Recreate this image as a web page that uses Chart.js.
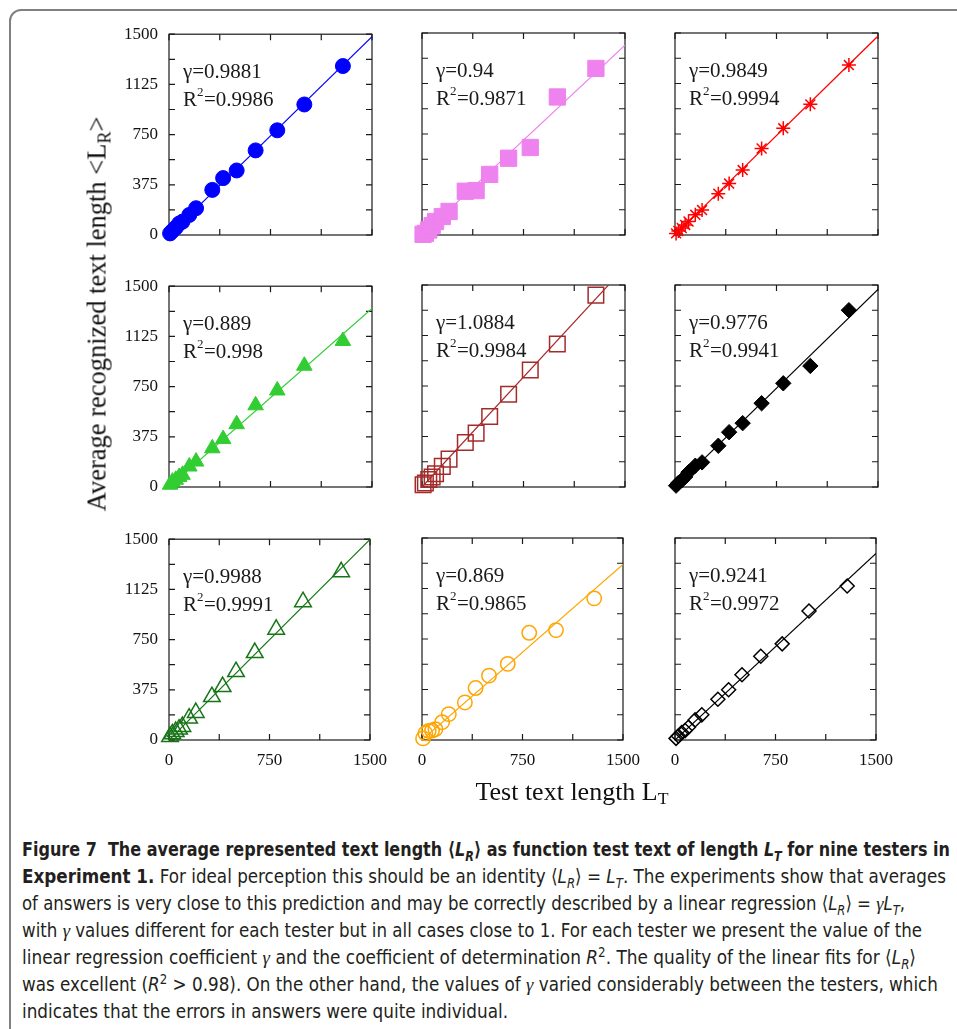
<!DOCTYPE html>
<html>
<head>
<meta charset="utf-8">
<script src="https://cdn.jsdelivr.net/npm/chart.js@4.4.0/dist/chart.umd.min.js"></script>
<style>
  html, body { margin: 0; padding: 0; background: #fff; }
  body { width: 957px; height: 1029px; position: relative; overflow: hidden; font-family: 'Liberation Serif', serif; }
  #box { position: absolute; left: 9px; top: 9px; width: 1000px; height: 1100px; border: 2px solid #808080; border-top-left-radius: 12px; }
  .panel { position: absolute; }
  .title { position: absolute; white-space: nowrap; color: #111; transform: translate(-50%, -50%); }
  .title sub { font-size: 0.68em; line-height: 0; vertical-align: -0.25em; }
  .ytitle { left: 97px; top: 314px; font-size: 26.5px; transform: translate(-50%, -50%) rotate(-90deg); }
  .xtitle { left: 572px; top: 792px; font-size: 26px; }
  .cl { position: absolute; left: 22px; white-space: nowrap; font-family: 'Liberation Sans Narrow', 'DejaVu Sans Condensed', 'Noto Sans', sans-serif;
        font-size: 19.5px; line-height: 27px; color: #231f20; transform-origin: 0 50%; }
  .cl sub, .cl sup { font-size: 0.7em; line-height: 0; }
  .g { font-family: 'Liberation Serif', serif; font-style: italic; }
</style>
</head>
<body>
<div id="box"></div>
<div id="panels"></div>
<div class="title ytitle">Average recognized text length &lt;L<sub>R</sub>&gt;</div>
<div class="title xtitle">Test text length L<sub>T</sub></div>

<div class="cl" data-w="928" style="top:836px"><b>Figure 7&nbsp; The average represented text length ⟨<i>L<sub>R</sub></i>⟩ as function test text of length <i>L<sub>T</sub></i> for nine testers in</b></div>
<div class="cl" data-w="924" style="top:863px"><b>Experiment 1.</b> For ideal perception this should be an identity ⟨<i>L<sub>R</sub></i>⟩ = <i>L<sub>T</sub></i>. The experiments show that averages</div>
<div class="cl" data-w="883" style="top:890px">of answers is very close to this prediction and may be correctly described by a linear regression ⟨<i>L<sub>R</sub></i>⟩ = <span class="g">γ</span><i>L<sub>T</sub></i>,</div>
<div class="cl" data-w="900" style="top:917px">with <span class="g">γ</span> values different for each tester but in all cases close to 1. For each tester we present the value of the</div>
<div class="cl" data-w="894" style="top:944px">linear regression coefficient <span class="g">γ</span> and the coefficient of determination <i>R</i><sup>2</sup>. The quality of the linear fits for ⟨<i>L<sub>R</sub></i>⟩</div>
<div class="cl" data-w="916" style="top:971px">was excellent (<i>R</i><sup>2</sup> &gt; 0.98). On the other hand, the values of <span class="g">γ</span> varied considerably between the testers, which</div>
<div class="cl" data-w="486" style="top:998px">indicates that the errors in answers were quite individual.</div>

<script>
// ---- data ----
const testLength = [8, 25, 50, 75, 100, 150, 200, 320, 400, 500, 640, 800, 1000, 1285];

const tester1 = [12, 30, 55, 85, 100, 150, 200, 337, 425, 482, 632, 782, 975, 1262];
const tester2 = [5, 12, 37, 70, 100, 137, 175, 325, 330, 450, 570, 650, 1025, 1237];
const tester3 = [12, 30, 52, 75, 100, 150, 185, 307, 382, 482, 642, 792, 970, 1262];
const tester4 = [17, 40, 54, 75, 91, 153, 190, 289, 358, 469, 610, 721, 906, 1091];
const tester5 = [17, 30, 55, 74, 99, 153, 207, 331, 400, 523, 689, 869, 1062, 1425];
const tester6 = [10, 30, 50, 75, 110, 158, 183, 306, 407, 474, 622, 770, 899, 1313];
const tester7 = [25, 45, 62, 80, 100, 162, 204, 323, 398, 510, 652, 826, 1032, 1256];
const tester8 = [12, 50, 67, 70, 80, 132, 192, 279, 386, 478, 565, 796, 816, 1052];
const tester9 = [12, 30, 55, 70, 95, 149, 187, 303, 373, 485, 622, 714, 958, 1144];
const testers = [tester1, tester2, tester3, tester4, tester5, tester6, tester7, tester8, tester9];

const gammas = [0.9881, 0.94, 0.9849, 0.889, 1.0884, 0.9776, 0.9988, 0.869, 0.9241];
const rSquared = ['0.9986', '0.9871', '0.9994', '0.998', '0.9984', '0.9941', '0.9991', '0.9865', '0.9972'];

const yTicks = [0, 375, 750, 1125, 1500];
const xTicks = [0, 750, 1500];

// ---- styling ----
const colors = ['#0000ff', '#ee82ee', '#ff0000', '#32cd32', '#a52a2a', '#000000', '#167516', '#ffa500', '#000000'];
const shapes = ['circle', 'rect', 'star', 'triangle', 'rect', 'rectRot', 'triangle', 'circle', 'rectRot'];
const filled = [true, true, false, true, false, true, false, false, false];
const sizes = [7.5, 11.5, 7, 9, 11, 7.7, 9.6, 7.2, 7];

const AXIS_MAX = 1500;
const TICK_LEN = 6;
const PLOT_W = 203, PLOT_H = 202;
const colLeft = [169, 422, 675];
const rowTop = [33, 285, 538];
const PAD_L = 75, PAD_T = 20, PAD_R = 25, PAD_B = 40;

const framePlugin = {
  id: 'frame',
  beforeDatasetsDraw(chart) {
    const { ctx, chartArea: a, scales: { x, y } } = chart;
    ctx.save();
    ctx.strokeStyle = '#1a1a1a';
    ctx.lineWidth = 1.2;
    ctx.strokeRect(a.left, a.top, a.right - a.left, a.bottom - a.top);
    ctx.beginPath();
    x.ticks.forEach(t => {
      const px = x.getPixelForValue(t.value);
      ctx.moveTo(px, a.bottom); ctx.lineTo(px, a.bottom - TICK_LEN);
      ctx.moveTo(px, a.top); ctx.lineTo(px, a.top + TICK_LEN);
    });
    y.ticks.forEach(t => {
      const py = y.getPixelForValue(t.value);
      ctx.moveTo(a.left, py); ctx.lineTo(a.left + TICK_LEN, py);
      ctx.moveTo(a.right, py); ctx.lineTo(a.right - TICK_LEN, py);
    });
    ctx.stroke();
    ctx.restore();
  },
  afterDraw(chart, args, opts) {
    const { ctx, chartArea: a } = chart;
    const x0 = a.left + 14;
    ctx.save();
    ctx.fillStyle = '#1a1a1a';
    ctx.textBaseline = 'alphabetic';
    ctx.font = '21px "Liberation Serif"';
    ctx.fillText('γ=' + opts.gamma, x0, a.top + 44);
    ctx.fillText('R', x0, a.top + 72);
    let cx = x0 + ctx.measureText('R').width;
    ctx.font = '13px "Liberation Serif"';
    ctx.fillText('2', cx, a.top + 62);
    cx += ctx.measureText('2').width + 0.5;
    ctx.font = '21px "Liberation Serif"';
    ctx.fillText('=' + opts.r2, cx, a.top + 72);
    ctx.restore();
  }
};

const tickFont = { family: 'Liberation Serif', size: 17 };

function buildPanel(i) {
  const col = i % 3, row = Math.floor(i / 3);
  const wrap = document.createElement('div');
  wrap.className = 'panel';
  wrap.style.left = (colLeft[col] - PAD_L) + 'px';
  wrap.style.top = (rowTop[row] - PAD_T) + 'px';
  const canvas = document.createElement('canvas');
  canvas.width = PLOT_W + PAD_L + PAD_R;
  canvas.height = PLOT_H + PAD_T + PAD_B;
  wrap.appendChild(canvas);
  document.getElementById('panels').appendChild(wrap);

  const color = colors[i];
  new Chart(canvas, {
    type: 'scatter',
    data: {
      datasets: [
        {
          data: testLength.map((x, k) => ({ x, y: testers[i][k] })),
          pointStyle: shapes[i],
          pointRadius: sizes[i],
          pointBorderColor: color,
          pointBackgroundColor: filled[i] ? color : 'rgba(0,0,0,0)',
          pointBorderWidth: filled[i] ? 1 : 1.5,
          clip: false
        },
        {
          type: 'line',
          data: [{ x: 0, y: 0 }, { x: AXIS_MAX, y: AXIS_MAX * gammas[i] }],
          borderColor: color,
          borderWidth: 1.2,
          pointRadius: 0,
          fill: false
        }
      ]
    },
    options: {
      responsive: false,
      animation: false,
      events: [],
      layout: { padding: { left: 0, top: PAD_T, right: PAD_R, bottom: 0 } },
      plugins: {
        legend: { display: false },
        tooltip: { enabled: false },
        frame: { gamma: String(gammas[i]), r2: rSquared[i] }
      },
      scales: {
        x: {
          type: 'linear', min: 0, max: AXIS_MAX,
          afterFit: s => { s.height = PAD_B; },
          grid: { display: false, drawTicks: false },
          border: { display: false },
          ticks: {
            display: row === 2, stepSize: 375, autoSkip: false, maxRotation: 0, padding: 10,
            font: tickFont, color: '#111',
            callback: v => xTicks.includes(v) ? String(v) : ''
          }
        },
        y: {
          type: 'linear', min: 0, max: AXIS_MAX,
          afterFit: s => { s.width = PAD_L; },
          grid: { display: false, drawTicks: false },
          border: { display: false },
          ticks: {
            display: col === 0, stepSize: 187.5, autoSkip: false, padding: 11,
            font: tickFont, color: '#111',
            callback: v => yTicks.includes(v) ? String(v) : ''
          }
        }
      }
    },
    plugins: [framePlugin]
  });
}

for (let i = 0; i < testers.length; i++) buildPanel(i);

// squeeze each caption line to the width it has in the figure
function fitCaption() {
  document.querySelectorAll('.cl').forEach(el => {
    el.style.transform = 'none';
    const w = el.getBoundingClientRect().width;
    el.style.transform = 'scaleX(' + (Number(el.dataset.w) / w) + ')';
  });
}
fitCaption();
if (document.fonts && document.fonts.ready) document.fonts.ready.then(fitCaption);
</script>
</body>
</html>
